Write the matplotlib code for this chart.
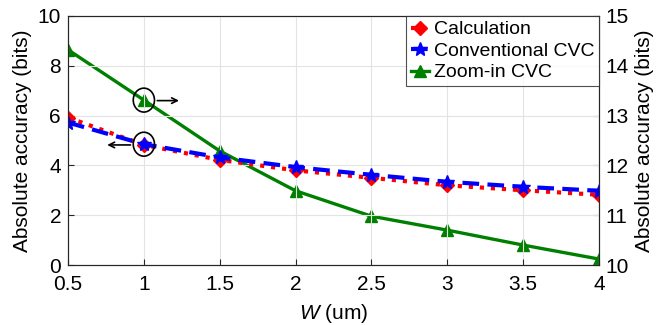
import numpy as np
import matplotlib
matplotlib.use("Agg")
import matplotlib.pyplot as plt
from matplotlib.patches import Ellipse

plt.rcParams['font.family'] = ['Liberation Sans', 'DejaVu Sans']
plt.rcParams['mathtext.fontset'] = 'custom'
plt.rcParams['mathtext.it'] = 'Liberation Sans:italic'
plt.rcParams['mathtext.rm'] = 'Liberation Sans'

# data
w = [0.5, 1.0, 1.5, 2.0, 2.5, 3.0, 3.5, 4.0]
calc = [5.92, 4.82, 4.22, 3.80, 3.50, 3.20, 3.00, 2.82]
conv = [5.72, 4.85, 4.32, 3.93, 3.62, 3.34, 3.14, 2.98]
zoom = [14.32, 13.31, 12.29, 11.49, 10.98, 10.70, 10.40, 10.12]

fig = plt.figure(figsize=(6.56, 3.25), dpi=100)
ax = fig.add_axes([0.1037, 0.1846, 0.8093, 0.7664])
ax2 = ax.twinx()

l1, = ax.plot(w, calc, color='red', ls=':', lw=3, marker='D', ms=7, label='Calculation')
l2, = ax.plot(w, conv, color='blue', ls='--', lw=3, marker='*', ms=10, dashes=(4, 2), label='Conventional CVC')
l3, = ax2.plot(w, zoom, color='green', ls='-', lw=2.4, marker='^', ms=9, label='Zoom-in CVC')
ax.set_zorder(ax2.get_zorder() + 1)
ax.patch.set_visible(False)

ax.set_xlim(0.5, 4)
ax.set_ylim(0, 10)
ax2.set_ylim(10, 15)
ax.set_xticks(w)
ax.set_xticklabels(['0.5', '1', '1.5', '2', '2.5', '3', '3.5', '4'])
ax.set_yticks([0, 2, 4, 6, 8, 10])
ax2.set_yticks([10, 11, 12, 13, 14, 15])
ax.grid(True, color='#e3e3e3', lw=0.8)

for a in (ax, ax2):
    a.tick_params(direction='in', labelsize=15, length=4, colors='#262626', labelcolor='black')
    for s in a.spines.values():
        s.set_color('#262626')
        s.set_linewidth(0.8)
ax.tick_params(axis='x', pad=7)
ax.tick_params(axis='y', pad=5)
ax2.tick_params(axis='y', pad=5)

ax.set_xlabel(r'$W$ (um)', fontsize=15, labelpad=6)
ax.set_ylabel('Absolute accuracy (bits)', fontsize=15, labelpad=4)
ax2.set_ylabel('Absolute accuracy (bits)', fontsize=15, labelpad=4)

# circles with arrows
ax.add_patch(Ellipse((1.0, 4.85), 0.14, 0.96, fill=False, color='black', lw=1.2, zorder=5))
ax.add_patch(Ellipse((1.0, 6.62), 0.14, 0.96, fill=False, color='black', lw=1.2, zorder=5))
ax.annotate('', xy=(0.74, 4.82), xytext=(0.93, 4.82),
            arrowprops=dict(arrowstyle='->', color='black', lw=1.2))
ax.annotate('', xy=(1.25, 6.6), xytext=(1.07, 6.6),
            arrowprops=dict(arrowstyle='->', color='black', lw=1.2))

leg = ax.legend([l1, l2, l3], ['Calculation', 'Conventional CVC', 'Zoom-in CVC'],
                loc='upper right', fontsize=14, borderaxespad=0, fancybox=False,
                handlelength=0.9, handletextpad=0.25, labelspacing=0.2, borderpad=0.25)
leg.get_frame().set_edgecolor('#262626')
leg.get_frame().set_linewidth(0.8)

fig.savefig('out.png', dpi=100)
